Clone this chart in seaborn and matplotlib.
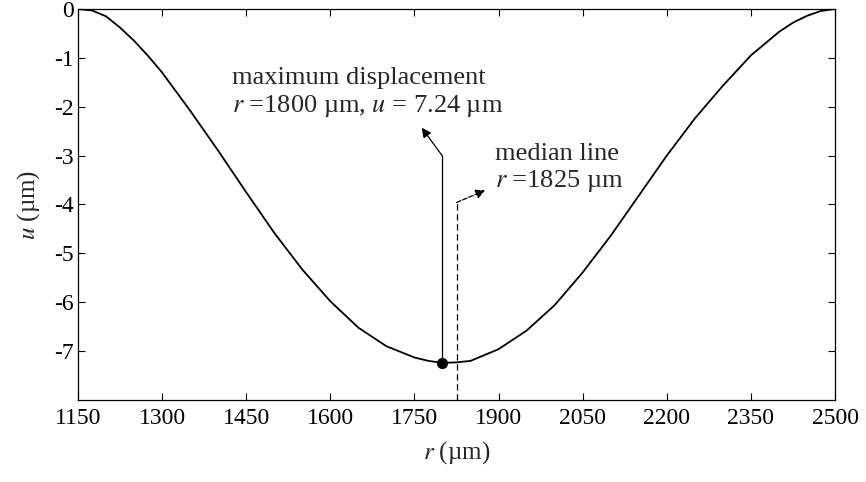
import numpy as np
import pandas as pd
import matplotlib
matplotlib.use("Agg")
import matplotlib.pyplot as plt
import seaborn as sns

# Radial displacement profile
r_vals = [1150, 1175, 1200, 1225, 1250, 1275, 1300, 1350, 1400, 1450, 1500,
          1550, 1600, 1650, 1700, 1750, 1775, 1800, 1825, 1850, 1900, 1950,
          2000, 2050, 2100, 2150, 2200, 2250, 2300, 2350, 2400, 2425, 2450,
          2475, 2500]
u_vals = [0.0, -0.03, -0.15, -0.38, -0.65, -0.96, -1.30, -2.08, -2.90, -3.75, -4.58,
          -5.33, -5.98, -6.52, -6.90, -7.13, -7.20, -7.24, -7.23, -7.20, -6.96, -6.58,
          -6.06, -5.39, -4.64, -3.82, -3.00, -2.24, -1.57, -0.95, -0.47, -0.28, -0.14,
          -0.04, 0.0]

r_max = 1800
u_max = -7.24
r_median = 1825

x_ticks = [1150, 1300, 1450, 1600, 1750, 1900, 2050, 2200, 2350, 2500]
y_ticks = [0, -1, -2, -3, -4, -5, -6, -7]

df = pd.DataFrame({"r": r_vals, "u": u_vals})

sns.set_style("ticks")
plt.rcParams["font.family"] = ["Liberation Serif", "DejaVu Serif"]
plt.rcParams["mathtext.fontset"] = "stix"
plt.rcParams["axes.unicode_minus"] = False

fig = plt.figure(figsize=(8.66, 4.82), dpi=100)
ax = fig.add_axes([78 / 866, 82 / 482, 757 / 866, 391 / 482])

sns.lineplot(data=df, x="r", y="u", color="black", lw=1.3, ax=ax)
ax.plot([r_max], [u_max], "o", color="black", ms=7)

# maximum displacement pointer
ax.plot([r_max, r_max], [u_max, -3.01], color="black", lw=0.9)
ax.annotate("", xy=(1763, -2.43), xytext=(r_max, -3.01),
            arrowprops=dict(arrowstyle="-|>", color="black", lw=0.9,
                            mutation_scale=14, shrinkA=0, shrinkB=0))
ax.text(1424, -1.53, "maximum displacement", fontsize=19, va="baseline")
ax.text(1424, -2.10, "$r$ =1800 µm, $u$ = 7.24 µm", fontsize=19, va="baseline")

# median line pointer
ax.plot([r_median, r_median], [-8, -3.96], color="black", lw=0.9, ls=(0, (5, 3)))
ax.annotate("", xy=(1876, -3.71), xytext=(r_median, -3.96),
            arrowprops=dict(arrowstyle="-|>", color="black", lw=0.9, ls="--",
                            mutation_scale=14, shrinkA=0, shrinkB=0))
ax.text(1894, -3.08, "median line", fontsize=19, va="baseline")
ax.text(1894, -3.65, "$r$ =1825 µm", fontsize=19, va="baseline")

ax.set_xlim(1150, 2500)
ax.set_ylim(-8, 0)
ax.set_xticks(x_ticks)
ax.set_yticks(y_ticks)
ax.tick_params(direction="in", length=5, width=0.8, labelsize=17,
               top=True, right=True, colors="black")
ax.tick_params(axis="x", pad=6)
ax.tick_params(axis="y", pad=3)
for s in ax.spines.values():
    s.set_visible(True)
    s.set_linewidth(0.9)
    s.set_color("black")

ax.set_xlabel("$r$ (µm)", fontsize=18, labelpad=7)
ax.set_ylabel("$u$ (µm)", fontsize=18, labelpad=9)

fig.savefig("out.png", dpi=100)
